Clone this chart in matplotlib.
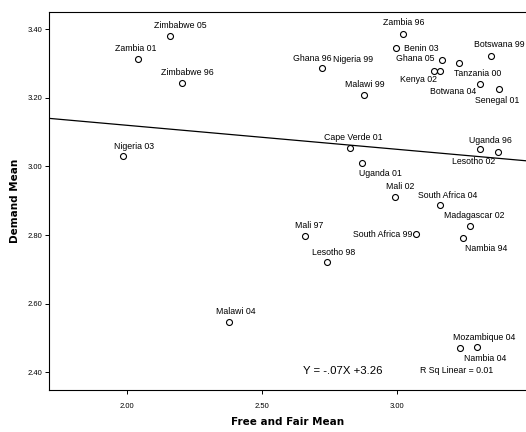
import matplotlib
matplotlib.use("Agg")
import matplotlib.pyplot as plt

# country-year cases
labels = ["Zimbabwe 05", "Zambia 01", "Zimbabwe 96", "Nigeria 03", "Zambia 96",
          "Benin 03", "Ghana 96", "Nigeria 99", "Ghana 05", "Kenya 02",
          "Tanzania 00", "Botswana 99", "Botwana 04", "Senegal 01", "Malawi 99",
          "Cape Verde 01", "Uganda 01", "Uganda 96", "Lesotho 02", "Mali 02",
          "South Africa 04", "Madagascar 02", "Nambia 94", "Mali 97", "South Africa 99",
          "Lesotho 98", "Malawi 04", "Mozambique 04", "Nambia 04"]
free_fair = [2.159, 2.041, 2.204, 1.985, 3.022,
             2.996, 2.722, 3.137, 3.167, 3.159,
             3.230, 3.348, 3.307, 3.378, 2.878,
             2.826, 2.870, 3.307, 3.374, 2.993,
             3.159, 3.270, 3.244, 2.659, 3.070,
             2.741, 2.378, 3.233, 3.296]
demand = [3.380, 3.313, 3.243, 3.030, 3.385,
          3.345, 3.286, 3.278, 3.310, 3.278,
          3.301, 3.321, 3.240, 3.225, 3.208,
          3.053, 3.009, 3.050, 3.041, 2.910,
          2.887, 2.826, 2.791, 2.797, 2.802,
          2.721, 2.546, 2.470, 2.473]

# fitted line Y = -.07X + 3.26
slope, intercept = -0.07, 3.26
xticks = [2.00, 2.50, 3.00]
yticks = [2.40, 2.60, 2.80, 3.00, 3.20, 3.40]

# label placement (pixel offsets from the point, horizontal alignment)
label_pos = {
    "Zimbabwe 05": (10, 11, "center"), "Zambia 01": (-2, 11, "center"),
    "Zimbabwe 96": (5, 11, "center"), "Nigeria 03": (11, 10, "center"),
    "Zambia 96": (1, 12, "center"), "Benin 03": (8, 0, "left"),
    "Ghana 96": (10, 10, "right"), "Nigeria 99": (-101, 12, "left"),
    "Ghana 05": (-8, 2, "right"), "Kenya 02": (-3, -8, "right"),
    "Tanzania 00": (-5, -10, "left"), "Botswana 99": (-17, 12, "left"),
    "Botwana 04": (-4, -7, "right"), "Senegal 01": (-24, -11, "left"),
    "Malawi 99": (1, 11, "center"), "Cape Verde 01": (3, 11, "center"),
    "Uganda 01": (19, -10, "center"), "Uganda 96": (11, 9, "center"),
    "Lesotho 02": (-24, -9, "center"), "Mali 02": (5, 11, "center"),
    "South Africa 04": (8, 10, "center"), "Madagascar 02": (4, 11, "center"),
    "Nambia 94": (23, -10, "center"), "Mali 97": (4, 11, "center"),
    "South Africa 99": (-3, 0, "right"), "Lesotho 98": (7, 10, "center"),
    "Malawi 04": (7, 11, "center"), "Mozambique 04": (24, 11, "center"),
    "Nambia 04": (8, -11, "center"),
}

plt.rcParams["font.family"] = ["Liberation Sans", "DejaVu Sans"]

fig = plt.figure(figsize=(5.26, 4.32), dpi=100)
ax = fig.add_axes([0.093, 0.097, 0.907, 0.875])

ax.plot(free_fair, demand, "o", markerfacecolor="none", markeredgecolor="black",
        markersize=4.3, markeredgewidth=0.8, linestyle="none")

x0, x1 = 1.711, 3.478
ax.plot([x0, x1], [intercept + slope * x0, intercept + slope * x1], color="black", lw=0.9)

for name, x, y in zip(labels, free_fair, demand):
    dx, dy, ha = label_pos[name]
    ax.annotate(name, (x, y), xytext=(dx, dy), textcoords="offset pixels",
                ha=ha, va="center", fontsize=6.3, annotation_clip=False)

ax.text(2.80, 2.405, "Y = -.07X +3.26", fontsize=8.2, ha="center", va="center")
ax.text(3.22, 2.405, "R Sq Linear = 0.01", fontsize=6.3, ha="center", va="center")

ax.set_xlim(x0, x1)
ax.set_ylim(2.348, 3.45)
ax.set_xticks(xticks)
ax.set_xticklabels([f"{v:.2f}" for v in xticks])
ax.set_yticks(yticks)
ax.set_yticklabels([f"{v:.2f}" for v in yticks])
ax.tick_params(labelsize=5.5, length=3, width=0.7, pad=6)
ax.tick_params(axis="y", pad=2)

for side in ["left", "bottom", "top"]:
    ax.spines[side].set_linewidth(0.8)
ax.spines["right"].set_visible(False)

ax.set_xlabel("Free and Fair Mean", fontsize=7.5, fontweight="bold",
              family="DejaVu Sans", labelpad=5)
ax.set_ylabel("Demand Mean", fontsize=7.5, fontweight="bold",
              family="DejaVu Sans", labelpad=5)

fig.savefig("out.png", dpi=100)
